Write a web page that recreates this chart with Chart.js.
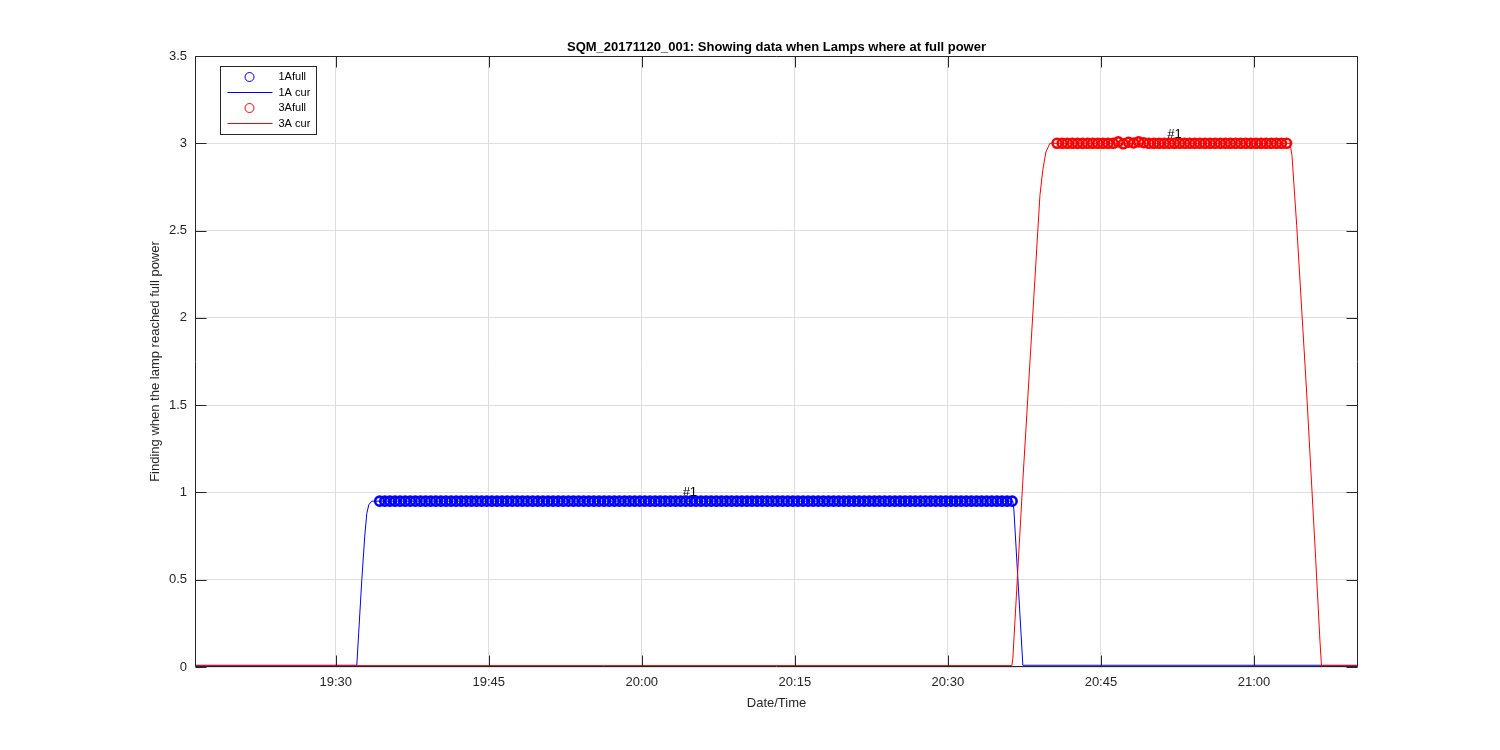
<!DOCTYPE html>
<html>
<head>
<meta charset="utf-8">
<title>SQM_20171120_001</title>
<script src="https://cdn.jsdelivr.net/npm/chart.js@4.4.0/dist/chart.umd.min.js"></script>
<style>
  html, body { margin: 0; padding: 0; background: #fff; }
  canvas { display: block; }
</style>
</head>
<body>
<canvas id="lamp-chart" width="1500" height="750"></canvas>
<script>
// time axis is minutes since midnight (19:30 -> 1170)
const xTickValues = [1170, 1185, 1200, 1215, 1230, 1245, 1260];
const xTickLabels = ['19:30', '19:45', '20:00', '20:15', '20:30', '20:45', '21:00'];
const yTickValues = [0, 0.5, 1, 1.5, 2, 2.5, 3, 3.5];

const chartTitle = 'SQM_20171120_001: Showing data when Lamps where at full power';

// 1A current trace
const cur1aTimes = [1156.2, 1172.06, 1172.25, 1172.55, 1172.84, 1173.04, 1173.24, 1173.53, 1236.37, 1236.47, 1237.35, 1270.2];
const cur1aValues = [0.01, 0.01, 0.2, 0.5, 0.75, 0.88, 0.93, 0.95, 0.95, 0.9, 0.01, 0.01];

// 3A current trace
const cur3aTimes = [1156.2, 1236.27, 1236.37, 1237.35, 1239.02, 1239.31, 1239.61, 1240.0, 1263.53, 1263.73, 1264.19, 1265.17, 1266.05, 1266.47, 1266.62, 1270.2];
const cur3aValues = [0.008, 0.008, 0.05, 1.07, 2.7, 2.85, 2.95, 3.0, 3.0, 2.93, 2.53, 1.57, 0.62, 0.15, 0.008, 0.008];

// samples where 1A was at full power
const full1aTimes = [
  1174.3, 1174.8, 1175.3, 1175.8, 1176.3, 1176.8, 1177.3, 1177.8, 1178.3, 1178.8,
  1179.3, 1179.8, 1180.3, 1180.8, 1181.3, 1181.8, 1182.3, 1182.8, 1183.3, 1183.8,
  1184.3, 1184.8, 1185.3, 1185.8, 1186.3, 1186.8, 1187.3, 1187.8, 1188.3, 1188.8,
  1189.3, 1189.8, 1190.3, 1190.8, 1191.3, 1191.8, 1192.3, 1192.8, 1193.3, 1193.8,
  1194.3, 1194.8, 1195.3, 1195.8, 1196.3, 1196.8, 1197.3, 1197.8, 1198.3, 1198.8,
  1199.3, 1199.8, 1200.3, 1200.8, 1201.3, 1201.8, 1202.3, 1202.8, 1203.3, 1203.8,
  1204.3, 1204.8, 1205.3, 1205.8, 1206.3, 1206.8, 1207.3, 1207.8, 1208.3, 1208.8,
  1209.3, 1209.8, 1210.3, 1210.8, 1211.3, 1211.8, 1212.3, 1212.8, 1213.3, 1213.8,
  1214.3, 1214.8, 1215.3, 1215.8, 1216.3, 1216.8, 1217.3, 1217.8, 1218.3, 1218.8,
  1219.3, 1219.8, 1220.3, 1220.8, 1221.3, 1221.8, 1222.3, 1222.8, 1223.3, 1223.8,
  1224.3, 1224.8, 1225.3, 1225.8, 1226.3, 1226.8, 1227.3, 1227.8, 1228.3, 1228.8,
  1229.3, 1229.8, 1230.3, 1230.8, 1231.3, 1231.8, 1232.3, 1232.8, 1233.3, 1233.8,
  1234.3, 1234.8, 1235.3, 1235.8, 1236.3
];
const full1aLevel = 0.95;

// samples where 3A was at full power
const full3aTimes = [
  1240.7, 1241.2, 1241.7, 1242.2, 1242.7, 1243.2, 1243.7, 1244.2, 1244.7, 1245.2,
  1245.7, 1246.2, 1246.7, 1247.2, 1247.7, 1248.2, 1248.7, 1249.2, 1249.7, 1250.2,
  1250.7, 1251.2, 1251.7, 1252.2, 1252.7, 1253.2, 1253.7, 1254.2, 1254.7, 1255.2,
  1255.7, 1256.2, 1256.7, 1257.2, 1257.7, 1258.2, 1258.7, 1259.2, 1259.7, 1260.2,
  1260.7, 1261.2, 1261.7, 1262.2, 1262.7, 1263.2
];
const full3aValues = [
  3, 3, 3, 3, 3, 3, 3, 3, 3, 3,
  3, 3, 3.008, 2.997, 3.006, 3.002, 3.008, 3.003, 3, 3,
  3, 3, 3, 3, 3, 3, 3, 3, 3, 3,
  3, 3, 3, 3, 3, 3, 3, 3, 3, 3,
  3, 3, 3, 3, 3, 3
];

// "#1" labels
const noteTimes = [1204.0, 1251.5];
const noteValues = [1.0, 3.05];
const noteTexts = ['#1', '#1'];

const FONT = '"Liberation Sans", Arial, Helvetica, sans-serif';
Chart.defaults.font.family = FONT;

function toPoints(xs, ys) {
    return xs.map((x, i) => ({x: x, y: ys[i]}));
}

// MATLAB style box, inward ticks, notes, legend and title
const matlabLook = {
    id: 'matlabLook',
    afterDraw(chart) {
        const ctx = chart.ctx;
        const area = chart.chartArea;
        const xs = chart.scales.x;
        const ys = chart.scales.y;
        const L = Math.round(area.left) + 0.5;
        const R = Math.round(area.right) - 0.5;
        const T = Math.round(area.top) + 0.5;
        const B = Math.round(area.bottom) - 0.5;
        const tick = 11;

        ctx.save();
        ctx.strokeStyle = '#262626';
        ctx.lineWidth = 1;
        ctx.beginPath();
        ctx.rect(L, T, R - L, B - T);
        xTickValues.forEach(v => {
            const px = Math.round(xs.getPixelForValue(v)) + 0.5;
            ctx.moveTo(px, B); ctx.lineTo(px, B - tick);
            ctx.moveTo(px, T); ctx.lineTo(px, T + tick);
        });
        yTickValues.forEach(v => {
            const py = Math.round(ys.getPixelForValue(v)) + 0.5;
            ctx.moveTo(L, py); ctx.lineTo(L + tick, py);
            ctx.moveTo(R, py); ctx.lineTo(R - tick, py);
        });
        ctx.stroke();

        // notes
        ctx.fillStyle = '#000';
        ctx.font = '13px ' + FONT;
        ctx.textAlign = 'left';
        ctx.textBaseline = 'middle';
        noteTexts.forEach((t, i) => {
            ctx.fillText(t, xs.getPixelForValue(noteTimes[i]), ys.getPixelForValue(noteValues[i]));
        });

        // legend
        const bx = L + 25, by = T + 10, bw = 96, bh = 68;
        ctx.fillStyle = '#fff';
        ctx.fillRect(bx, by, bw, bh);
        ctx.strokeStyle = '#262626';
        ctx.strokeRect(bx, by, bw, bh);
        ctx.font = '11px ' + FONT;
        chart.data.datasets.forEach((ds, i) => {
            const ry = by + 10.5 + i * 15.5;
            ctx.strokeStyle = ds.borderColor;
            ctx.lineWidth = 1;
            ctx.beginPath();
            if (ds.showLine) {
                ctx.moveTo(bx + 7, ry);
                ctx.lineTo(bx + 52, ry);
            } else {
                ctx.arc(bx + 29, ry, 4.5, 0, Math.PI * 2);
            }
            ctx.stroke();
            ctx.fillStyle = '#000';
            ctx.fillText(ds.label, bx + 58, ry);
        });

        // title
        ctx.font = 'bold 13px ' + FONT;
        ctx.fillStyle = '#000';
        ctx.textAlign = 'center';
        ctx.fillText(chartTitle, (area.left + area.right) / 2, 47);
        ctx.restore();
    }
};

const markerStyle = {
    showLine: false,
    pointRadius: 4.5,
    pointBorderWidth: 2.6,
    pointBackgroundColor: 'rgba(0,0,0,0)',
    pointHoverRadius: 4.5
};

const lineStyle = {
    showLine: true,
    pointRadius: 0,
    borderWidth: 1,
    tension: 0
};

new Chart(document.querySelector('#lamp-chart').getContext('2d'), {
    type: 'scatter',
    data: {
        datasets: [
            Object.assign({
                label: '1Afull',
                data: full1aTimes.map(t => ({x: t, y: full1aLevel})),
                borderColor: '#0000ff',
                pointBorderColor: '#0000ff',
                order: 4
            }, markerStyle),
            Object.assign({
                label: '1A cur',
                data: toPoints(cur1aTimes, cur1aValues),
                borderColor: '#0000ff',
                order: 3
            }, lineStyle),
            Object.assign({
                label: '3Afull',
                data: toPoints(full3aTimes, full3aValues),
                borderColor: '#ff0000',
                pointBorderColor: '#ff0000',
                order: 2
            }, markerStyle),
            Object.assign({
                label: '3A cur',
                data: toPoints(cur3aTimes, cur3aValues),
                borderColor: '#ff0000',
                order: 1
            }, lineStyle)
        ]
    },
    options: {
        responsive: false,
        animation: false,
        layout: {padding: {top: 56, right: 142, bottom: 0, left: 0}},
        plugins: {
            legend: {display: false},
            title: {display: false},
            tooltip: {enabled: false}
        },
        scales: {
            x: {
                type: 'linear',
                min: 1156.2,
                max: 1270.2,
                afterBuildTicks: s => { s.ticks = xTickValues.map(v => ({value: v})); },
                afterFit: s => { s.height = 83; },
                grid: {color: '#dedede', drawTicks: false},
                border: {display: false},
                ticks: {
                    color: '#262626',
                    font: {size: 13},
                    padding: 8,
                    maxRotation: 0,
                    callback: v => xTickLabels[xTickValues.indexOf(v)]
                },
                title: {
                    display: true,
                    text: 'Date/Time',
                    color: '#262626',
                    font: {size: 13},
                    padding: {top: 0, bottom: 39}
                }
            },
            y: {
                type: 'linear',
                min: 0,
                max: 3.5,
                afterBuildTicks: s => { s.ticks = yTickValues.map(v => ({value: v})); },
                afterFit: s => { s.width = 195; },
                grid: {color: '#dedede', drawTicks: false},
                border: {display: false},
                ticks: {
                    color: '#262626',
                    font: {size: 13},
                    padding: 8,
                    callback: v => String(v)
                },
                title: {
                    display: true,
                    text: 'Finding when the lamp reached full power',
                    color: '#262626',
                    font: {size: 13},
                    padding: {top: 148, bottom: 0}
                }
            }
        }
    },
    plugins: [matlabLook]
});
</script>
</body>
</html>
